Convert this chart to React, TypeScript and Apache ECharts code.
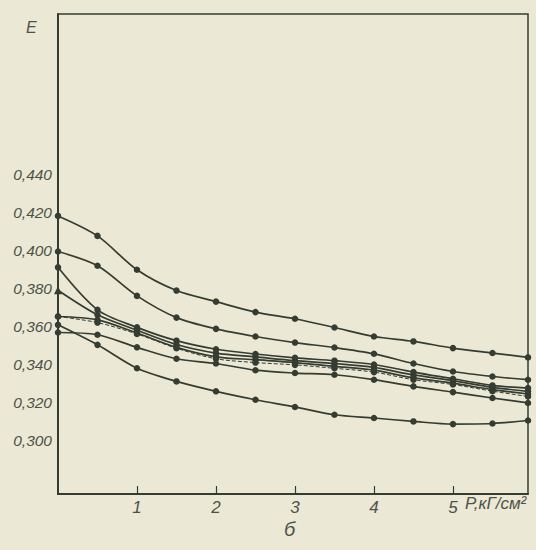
import React, { useEffect, useRef } from "react";
import * as echarts from "echarts";

const pressure = [0, 0.5, 1, 1.5, 2, 2.5, 3, 3.5, 4, 4.5, 5, 5.5, 5.95];
const curveA = [0.418, 0.4075, 0.3897, 0.3788, 0.373, 0.3675, 0.364, 0.3594, 0.3547, 0.3521, 0.3486, 0.346, 0.3437];
const curveB = [0.3993, 0.3918, 0.376, 0.3646, 0.3587, 0.3547, 0.3515, 0.3489, 0.3456, 0.3405, 0.3363, 0.3337, 0.332];
const curveC = [0.391, 0.3687, 0.3595, 0.3525, 0.348, 0.3455, 0.3435, 0.342, 0.34, 0.336, 0.3325, 0.329, 0.3276];
const curveD = [0.379, 0.3661, 0.358, 0.3505, 0.346, 0.344, 0.342, 0.3405, 0.3385, 0.3345, 0.3315, 0.328, 0.3259];
const curveE = [0.3652, 0.3634, 0.3565, 0.349, 0.344, 0.3425, 0.341, 0.339, 0.337, 0.333, 0.3302, 0.3268, 0.3245];
const curveE2 = [0.3652, 0.362, 0.356, 0.3485, 0.343, 0.341, 0.3398, 0.338, 0.336, 0.332, 0.3295, 0.326, 0.3232];
const curveG = [0.3568, 0.3556, 0.349, 0.343, 0.3405, 0.337, 0.3355, 0.3346, 0.332, 0.3285, 0.3255, 0.3224, 0.3198];
const curveF = [0.3608, 0.3503, 0.338, 0.3311, 0.3259, 0.3215, 0.3177, 0.3136, 0.3119, 0.3101, 0.3087, 0.309, 0.3106];

const yTickValues = [0.3, 0.32, 0.34, 0.36, 0.38, 0.4, 0.42, 0.44];
const xTickValues = [1, 2, 3, 4, 5];

const INK = "#353c32";
const TEXT = "#4d5349";
const PAPER = "#ebe8d5";
const FONT = "Liberation Sans";

export default function App() {
  const ref = useRef<HTMLDivElement>(null);
  useEffect(() => {
    document.body.style.margin = "0";
    document.body.style.background = PAPER;
    const chart = echarts.init(ref.current!, null, { renderer: "svg" });
    const mk = (vals: number[], opts: any = {}) => ({
      type: "line",
      smooth: 0.3,
      symbol: "circle",
      symbolSize: 6.5,
      itemStyle: { color: INK },
      lineStyle: { color: INK, width: 1.7, ...(opts.line || {}) },
      data: vals.map((v, i) =>
        i === 0 && opts.firstSymbol
          ? { value: [pressure[i], v], symbol: opts.firstSymbol, symbolSize: 8 }
          : [pressure[i], v]
      ),
      z: 3,
    });
    chart.setOption({
      animation: false,
      backgroundColor: PAPER,
      grid: {
        left: 58,
        right: 8,
        top: 14,
        bottom: 56,
        show: true,
        borderColor: INK,
        borderWidth: 1.5,
      },
      xAxis: {
        type: "value",
        min: 0,
        max: 5.95,
        splitLine: { show: false },
        axisLine: { lineStyle: { color: INK, width: 2 } },
        axisTick: {
          show: true,
          inside: true,
          length: 8,
          customValues: xTickValues,
          lineStyle: { color: INK, width: 1.2 },
        },
        axisLabel: {
          customValues: xTickValues,
          margin: 5,
          color: TEXT,
          fontFamily: FONT,
          fontStyle: "italic",
          fontSize: 17,
        },
      },
      yAxis: {
        type: "value",
        min: 0.272,
        max: 0.524,
        splitLine: { show: false },
        axisLine: { show: true, lineStyle: { color: INK, width: 2 } },
        axisTick: { show: false },
        axisLabel: {
          customValues: yTickValues,
          margin: 6,
          color: TEXT,
          fontFamily: FONT,
          fontStyle: "italic",
          fontSize: 15.5,
          formatter: (v: number) => v.toFixed(3).replace(".", ","),
        },
      },
      graphic: [
        {
          type: "text",
          left: 26,
          top: 19,
          style: { text: "E", fill: TEXT, font: `italic 16px "${FONT}"` },
        },
        {
          type: "text",
          left: 465,
          top: 495,
          style: { text: "Р,кГ/см²", fill: TEXT, font: `italic 17px "${FONT}"` },
        },
        {
          type: "text",
          left: 284,
          top: 519,
          style: { text: "б", fill: TEXT, font: `italic 20px "${FONT}"` },
        },
      ],
      series: [
        mk(curveA),
        mk(curveB),
        mk(curveC),
        mk(curveD, { firstSymbol: "triangle" }),
        mk(curveE),
        mk(curveE2, { line: { width: 1, type: "dashed" } }),
        mk(curveG),
        mk(curveF),
      ],
    });
    return () => chart.dispose();
  }, []);
  return (
    <div
      ref={ref}
      style={{ position: "absolute", left: 0, top: 0, width: 536, height: 550, background: PAPER }}
    />
  );
}
